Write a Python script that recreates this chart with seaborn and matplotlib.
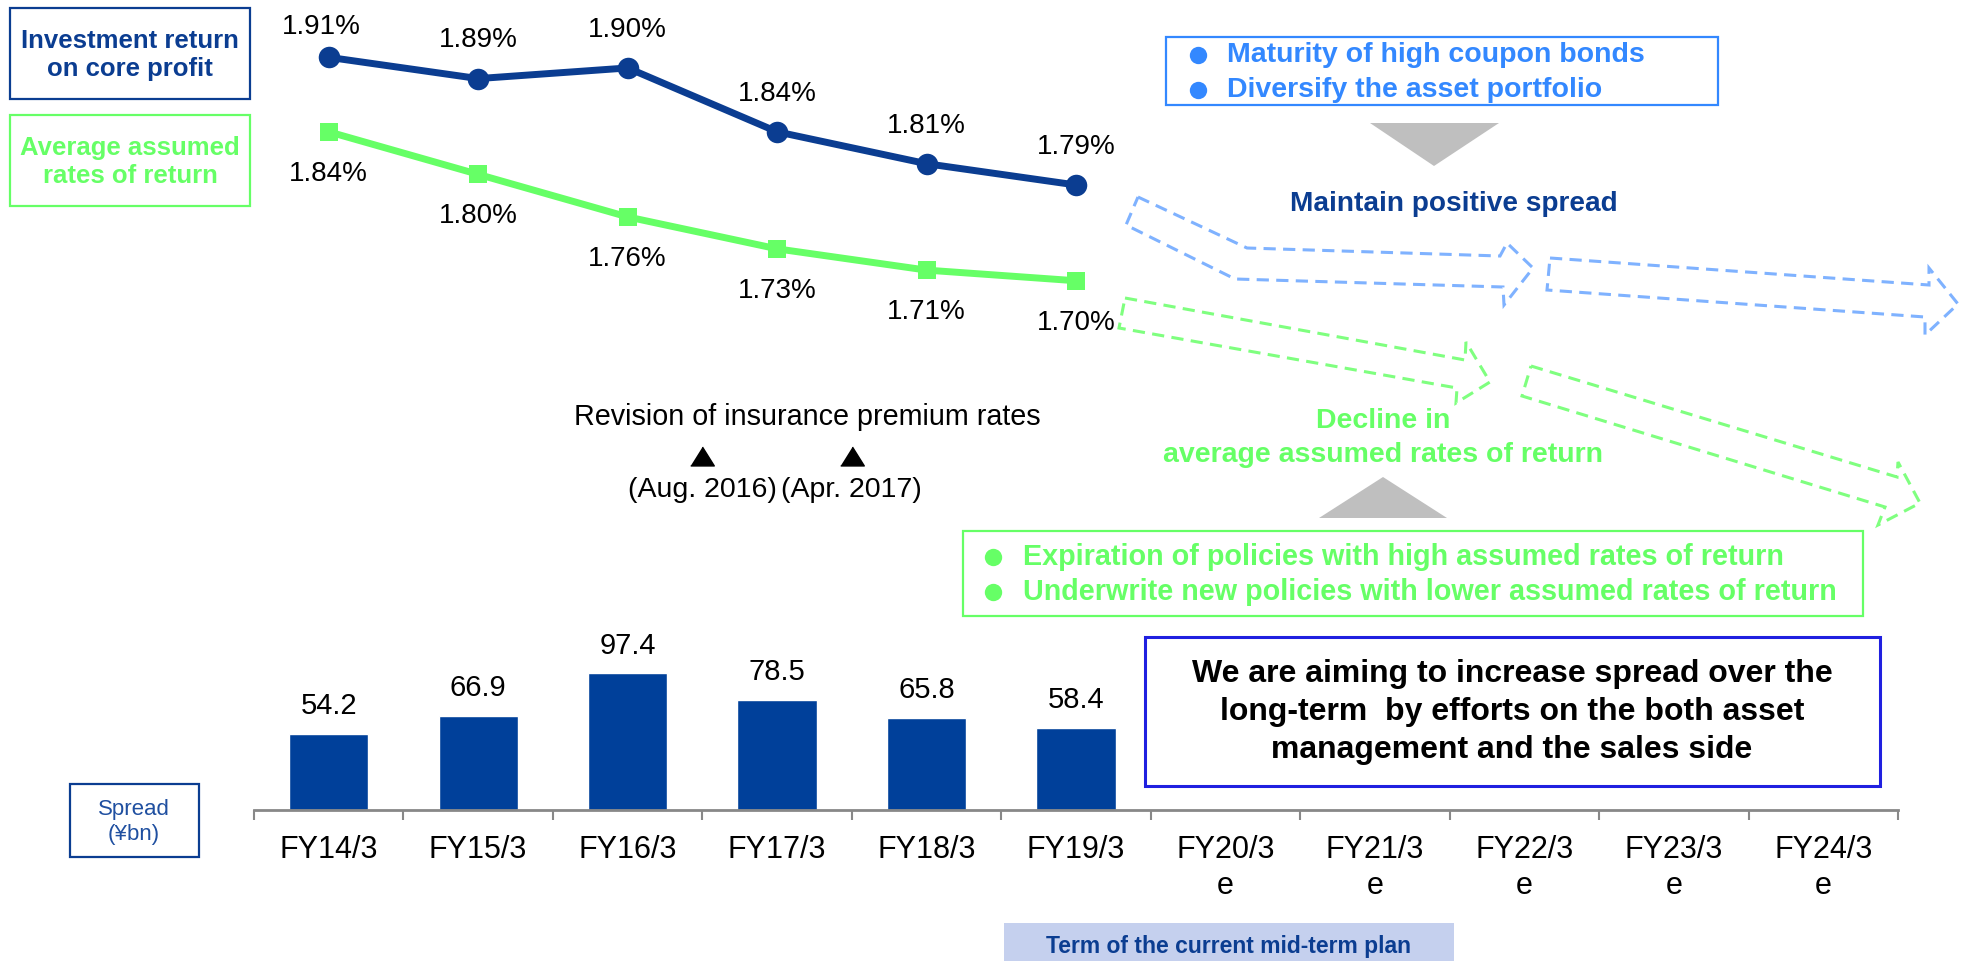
import numpy as np
import pandas as pd
import matplotlib
matplotlib.use("Agg")
import matplotlib.pyplot as plt
import matplotlib.transforms as mtransforms
from matplotlib.patches import Rectangle, Polygon
import seaborn as sns

# ---------------- data ----------------
categories = ["FY14/3", "FY15/3", "FY16/3", "FY17/3", "FY18/3", "FY19/3",
              "FY20/3\ne", "FY21/3\ne", "FY22/3\ne", "FY23/3\ne", "FY24/3\ne"]
actual_years = categories[:6]
investment_return = [1.91, 1.89, 1.90, 1.84, 1.81, 1.79]
assumed_rates = [1.84, 1.80, 1.76, 1.73, 1.71, 1.70]
spread = [54.2, 66.9, 97.4, 78.5, 65.8, 58.4]
revision_positions = [2.5, 3.5]
revision_labels = ["(Aug. 2016)", "(Apr. 2017)"]

# ---------------- style ----------------
sns.set_theme(style="white")
plt.rcParams["font.family"] = ["Liberation Sans", "DejaVu Sans"]

NAVY = "#0B3D91"
BAR = "#00409A"
GREEN = "#66FF66"
LBLUE = "#3388FF"
W, H = 1964, 961

# label offsets (points) for the upper-line labels: first one sits a bit closer
upper_label_offsets = [(-5.5, 22), (0, 27.5), (0, 27.5), (0, 27.5), (0, 27.5), (0, 27.5)]


def fx(x):
    return x / W


def fy(y):
    return 1 - y / H


fig = plt.figure(figsize=(W / 100, H / 100), dpi=100)
fig.patch.set_facecolor("white")

ax_line = fig.add_axes([fx(254), fy(344.6), (1898 - 254) / W, 340.5 / H])
ax_bar = fig.add_axes([fx(254), fy(810.3), (1898 - 254) / W, 154.6 / H])

# ---------------- line chart ----------------
inv_df = pd.DataFrame({"pos": range(len(investment_return)), "value": investment_return})
ass_df = pd.DataFrame({"pos": range(len(assumed_rates)), "value": assumed_rates})
sns.lineplot(data=inv_df, x="pos", y="value", color=NAVY, marker="o",
             linewidth=5, markersize=15.5, markeredgewidth=0, ax=ax_line)
sns.lineplot(data=ass_df, x="pos", y="value", color=GREEN, marker="s",
             linewidth=5, markersize=13.5, markeredgewidth=0, ax=ax_line)
ax_line.set_xlim(-0.5, 10.5)
ax_line.set_ylim(1.64, 1.96)
ax_line.axis("off")

for i, v in enumerate(investment_return):
    ax_line.annotate(f"{v:.2f}%", (i, v), xytext=upper_label_offsets[i],
                     textcoords="offset points", ha="center", va="center",
                     fontsize=20, color="black")
for i, v in enumerate(assumed_rates):
    ax_line.annotate(f"{v:.2f}%", (i, v), xytext=(0, -30.2), textcoords="offset points",
                     ha="center", va="center", fontsize=20, color="black")

# ---------------- bar chart ----------------
bar_df = pd.DataFrame({"year": actual_years, "spread": spread})
sns.barplot(data=bar_df, x="year", y="spread", order=categories, color=BAR,
            saturation=1, width=0.53, ax=ax_bar)
ax_bar.set_xlim(-0.5, 10.5)
ax_bar.set_ylim(0, 110)
ax_bar.set_xlabel("")
ax_bar.set_ylabel("")
ax_bar.set_yticks([])
for s in ["top", "left", "right"]:
    ax_bar.spines[s].set_visible(False)
ax_bar.spines["bottom"].set_color("#888888")
ax_bar.spines["bottom"].set_linewidth(2)
ax_bar.set_xticks(range(len(categories)))
ax_bar.set_xticklabels(categories)
ax_bar.set_xticks(np.arange(-0.5, len(categories), 1), minor=True)
ax_bar.tick_params(axis="x", which="major", length=0, pad=17.5, labelsize=22, labelcolor="black")
ax_bar.tick_params(axis="x", which="minor", length=7.5, width=1.5, color="#888888",
                   direction="out", bottom=True)
for lbl in ax_bar.get_xticklabels():
    lbl.set_linespacing(1.28)

for i, v in enumerate(spread):
    ax_bar.annotate(f"{v:.1f}", (i, v), xytext=(0, 20), textcoords="offset points",
                    ha="center", va="center", fontsize=21, color="black")

# ---------------- annotations ----------------
def box(x0, y0, x1, y1, ec, lw=1.5, fc="none"):
    r = Rectangle((fx(x0), fy(y1)), (x1 - x0) / W, (y1 - y0) / H,
                  transform=fig.transFigure, facecolor=fc, edgecolor=ec,
                  linewidth=lw, zorder=3)
    fig.add_artist(r)


def poly(pts, **kw):
    p = Polygon([(fx(x), fy(y)) for x, y in pts], closed=True,
                transform=fig.transFigure, **kw)
    fig.add_artist(p)


def bullet(x, y, color):
    fig.add_artist(plt.Line2D([fx(x)], [fy(y)], transform=fig.transFigure, marker="o",
                              markersize=12.5, markeredgewidth=0, color=color,
                              linestyle="none"))


# legend-like boxes on the left
box(10, 8, 250, 99, NAVY, lw=1.6)
fig.text(fx(130), fy(55), "Investment return\non core profit", ha="center", va="center",
         fontsize=18.5, fontweight="bold", color=NAVY, linespacing=1.2)
box(10, 115, 250, 206, GREEN, lw=1.6)
fig.text(fx(130), fy(162), "Average assumed\nrates of return", ha="center", va="center",
         fontsize=18.5, fontweight="bold", color=GREEN, linespacing=1.2)

# blue box top right
box(1166, 37, 1718, 105, LBLUE, lw=1.6)
for y, t in [(55, "Maturity of high coupon bonds"), (90, "Diversify the asset portfolio")]:
    bullet(1198, y, LBLUE)
    fig.text(fx(1227), fy(y), t, ha="left", va="center", fontsize=20.5,
             fontweight="bold", color=LBLUE)

# grey triangles
poly([(1370, 123), (1499, 123), (1434, 166)], facecolor="#BFBFBF", edgecolor="none")
poly([(1319, 518), (1447, 518), (1383, 477)], facecolor="#BFBFBF", edgecolor="none")

fig.text(fx(1454), fy(204), "Maintain positive spread", ha="center", va="center",
         fontsize=20.2, fontweight="bold", color=NAVY)
fig.text(fx(1383), fy(438), "Decline in\naverage assumed rates of return", ha="center",
         va="center", fontsize=20.5, fontweight="bold", color=GREEN, linespacing=1.4)

# dashed block arrows
dash_kw = dict(fill=False, linewidth=2.2, linestyle=(0, (4.0, 2.4)))
poly([(1138, 197), (1247, 248), (1500, 256), (1507, 243), (1533, 268),
      (1504, 305), (1503, 287), (1235, 279), (1126, 225)], edgecolor="#7FB2FF", **dash_kw)
poly([(1550, 258), (1929, 285), (1929, 268), (1958, 304), (1925, 335),
      (1925, 317), (1547, 290)], edgecolor="#7FB2FF", **dash_kw)
poly([(1125, 298), (1465, 360), (1466, 342), (1490, 382), (1456, 403),
      (1457, 388), (1119, 328)], edgecolor="#7FFF7F", **dash_kw)
poly([(1531, 366), (1897, 477), (1898, 462), (1920, 503), (1878, 525),
      (1885, 507), (1522, 396)], edgecolor="#7FFF7F", **dash_kw)

# green box
box(963, 531, 1863, 616, GREEN, lw=1.6)
for y, t in [(557, "Expiration of policies with high assumed rates of return"),
             (592, "Underwrite new policies with lower assumed rates of return")]:
    bullet(993, y, GREEN)
    fig.text(fx(1023), fy(y), t, ha="left", va="center", fontsize=20.7,
             fontweight="bold", color=GREEN)

# big message box
box(1145, 637, 1880, 786, "#2020E0", lw=2.2)
fig.text(fx(1512), fy(712), "We are aiming to increase spread over the\n"
         "long-term  by efforts on the both asset\nmanagement and the sales side",
         ha="center", va="center", fontsize=23, fontweight="bold", color="black",
         linespacing=1.36)

# revision annotation
fig.text(fx(807), fy(417), "Revision of insurance premium rates", ha="center",
         va="center", fontsize=20.7, color="black")
blend = mtransforms.blended_transform_factory(ax_bar.transData, fig.transFigure)
tri = [(-1.25, -1.0), (1.25, -1.0), (0.0, 1.0)]
for xp, lab in zip(revision_positions, revision_labels):
    fig.add_artist(plt.Line2D([xp], [fy(456)], transform=blend, marker=tri,
                              markersize=17, color="black", linestyle="none"))
    fig.text(xp, fy(490), lab, transform=blend, ha="center", va="center",
             fontsize=20.5, color="black")

# spread unit box
box(70, 784, 199, 857, NAVY, lw=1.6)
fig.text(fx(134), fy(822), "Spread\n(\u00A5bn)", ha="center", va="center",
         fontsize=16, color="#1F4FA0", linespacing=1.3)

# term box
box(1004, 923, 1454, 961, "none", lw=0, fc="#C5D0EE")
fig.text(fx(1229), fy(946), "Term of the current mid-term plan", ha="center",
         va="center", fontsize=16.5, fontweight="bold", color=NAVY, zorder=4)

fig.savefig("out.png", dpi=100, facecolor="white")
